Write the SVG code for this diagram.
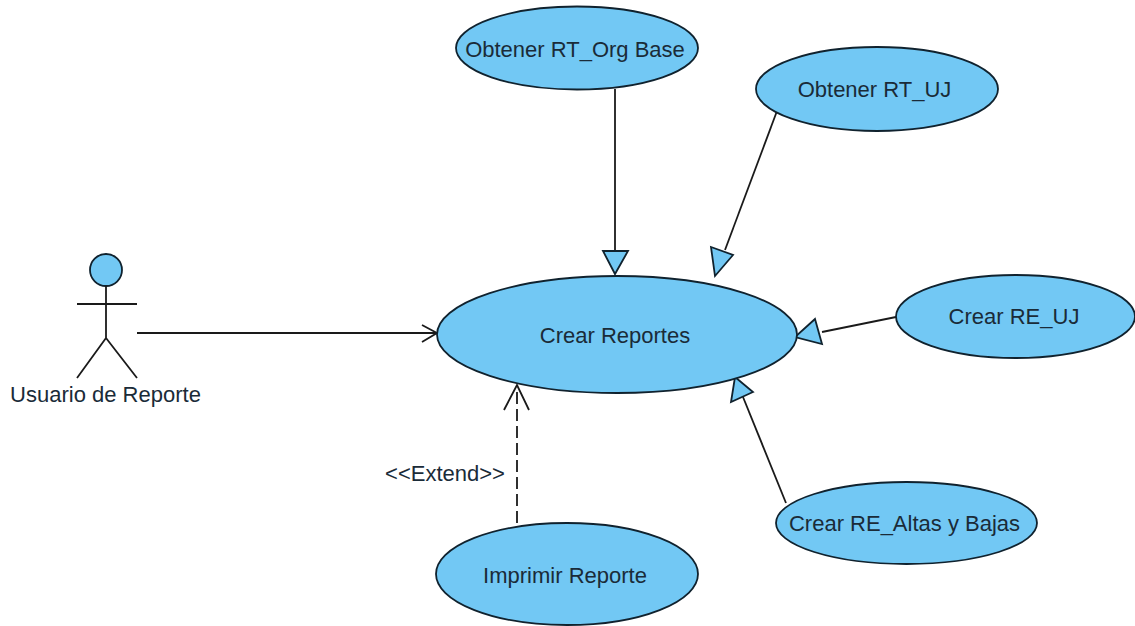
<svg xmlns="http://www.w3.org/2000/svg" width="1135" height="626" viewBox="0 0 1135 626">
<style>
.n{fill:#72c8f4;stroke:#10222e;stroke-width:1.8}
.c{fill:none;stroke:#1a1a1a;stroke-width:1.8}
.h{fill:#72c8f4;stroke:#10222e;stroke-width:1.8;stroke-linejoin:miter}
text{font-family:"Liberation Sans",Arial,sans-serif;font-size:22px;fill:#1a2b38;text-anchor:middle}
</style>
<rect width="1135" height="626" fill="#fff"/>
<g id="connectors">
<path class="c" d="M137 333H436"/><path class="c" d="M422 325L437 333L422 342"/>
<path class="c" d="M615 89V251"/><polygon class="h" points="603,251 628,251 615,274"/>
<path class="c" d="M777 111L725 250"/><polygon class="h" points="711,247 733,255 715,276"/>
<path class="c" d="M896 317L822 332"/><polygon class="h" points="815,319 822,344 795,337"/>
<path class="c" d="M786 503L743 397"/><polygon class="h" points="753,392 731,402 735,377"/>
<path class="c" stroke-dasharray="12 5" d="M517 523V386"/><path class="c" d="M504 410L517 385L529 410"/>
</g>
<g id="actor"><circle class="n" cx="106" cy="270" r="16"/><path class="c" d="M106 286V338M77 304H137M106 338L77 378M106 338L137 378"/><text x="105.500" y="402">Usuario de Reporte</text></g>
<g id="crear-reportes"><ellipse class="n" cx="617" cy="334.500" rx="180" ry="58.500"/><text x="615" y="343">Crear Reportes</text></g>
<g id="obtener-org"><ellipse class="n" cx="577" cy="48" rx="121" ry="41.500"/><text x="575" y="57">Obtener RT_Org Base</text></g>
<g id="obtener-uj"><ellipse class="n" cx="877" cy="89" rx="121" ry="42"/><text x="874.500" y="97">Obtener RT_UJ</text></g>
<g id="crear-uj"><ellipse class="n" cx="1015.500" cy="316.500" rx="119.500" ry="41.500"/><text x="1014" y="324">Crear RE_UJ</text></g>
<g id="crear-altas"><ellipse class="n" cx="906.500" cy="523" rx="130.500" ry="41"/><text x="904.500" y="531">Crear RE_Altas y Bajas</text></g>
<g id="imprimir"><ellipse class="n" cx="567" cy="574" rx="131" ry="51"/><text x="565" y="583">Imprimir Reporte</text></g>
<text x="445" y="481">&lt;&lt;Extend&gt;&gt;</text>
</svg>
